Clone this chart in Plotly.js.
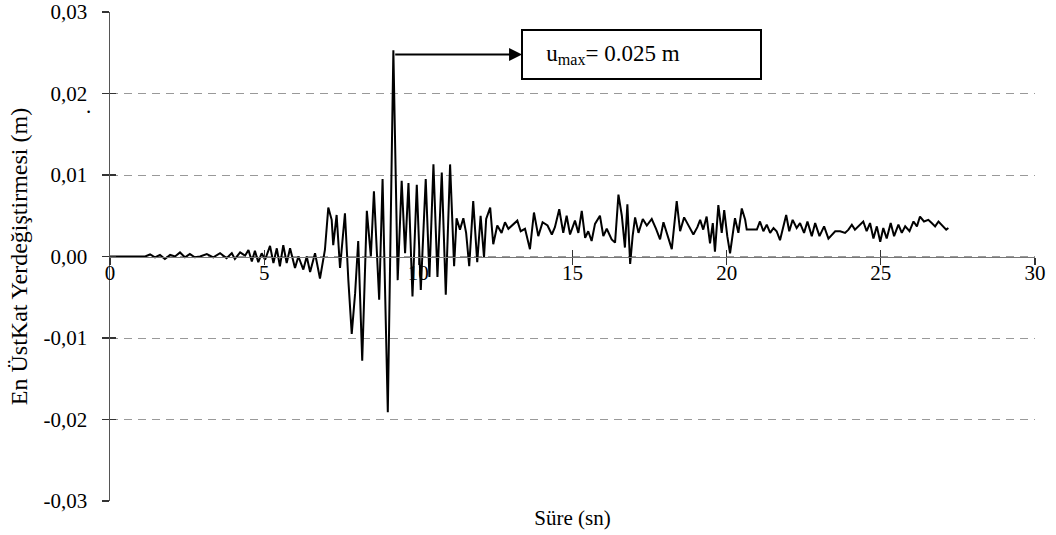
<!DOCTYPE html>
<html>
<head>
<meta charset="utf-8">
<script src="https://cdn.plot.ly/plotly-3.0.1.min.js"></script>
<style>html,body{margin:0;padding:0;background:#fff;}#chart{width:1056px;height:535px;}</style>
</head>
<body>
<div id="chart"></div>
<script>
// Time (s)
const time = [
 0, 1.14, 1.30, 1.46, 1.62, 1.78, 1.95, 2.11, 2.27, 2.43, 2.59, 2.75, 2.92,
 3.14, 3.35, 3.57, 3.78, 3.95, 4.05, 4.22, 4.38, 4.49, 4.60, 4.70, 4.81, 4.92,
 5.03, 5.19, 5.30, 5.41, 5.51, 5.62, 5.73, 5.84, 6.00, 6.11, 6.27, 6.38, 6.49,
 6.65, 6.81, 6.97, 7.08, 7.19, 7.24, 7.35, 7.46, 7.62, 7.73, 7.84, 7.95, 8.05,
 8.18, 8.33, 8.46, 8.56, 8.73, 8.84, 9.01, 9.19, 9.33, 9.46, 9.57, 9.68, 9.81,
 9.95, 10.08, 10.24, 10.36, 10.49, 10.62, 10.76, 10.89, 11.03, 11.16, 11.24,
 11.35, 11.46, 11.55, 11.65, 11.78, 11.91, 12.02, 12.13, 12.20, 12.33, 12.43,
 12.56, 12.70, 12.81, 12.92, 13.08, 13.21, 13.32, 13.46, 13.62, 13.75, 13.89,
 14.03, 14.19, 14.33, 14.43, 14.57, 14.70, 14.81, 14.92, 15.08, 15.19, 15.30,
 15.41, 15.51, 15.62, 15.73, 15.89, 16.00, 16.11, 16.27, 16.38, 16.49, 16.60,
 16.70, 16.78, 16.87, 16.95, 17.03, 17.14, 17.28, 17.41, 17.57, 17.71, 17.84,
 17.95, 18.08, 18.22, 18.38, 18.49, 18.62, 18.76, 18.92, 19.05, 19.14, 19.24,
 19.35, 19.46, 19.55, 19.62, 19.73, 19.84, 19.92, 20.02, 20.11, 20.27, 20.38,
 20.49, 20.60, 20.65, 20.98, 21.08, 21.19, 21.30, 21.41, 21.52, 21.62, 21.73,
 21.84, 21.93, 22.03, 22.14, 22.27, 22.38, 22.51, 22.62, 22.76, 22.87, 23.01,
 23.16, 23.30, 23.41, 23.52, 23.68, 23.84, 23.95, 24.06, 24.16, 24.27, 24.43,
 24.54, 24.65, 24.76, 24.87, 24.98, 25.08, 25.19, 25.32, 25.43, 25.57, 25.68,
 25.79, 25.93, 26.06, 26.17, 26.27, 26.40, 26.54, 26.65, 26.76, 26.87, 27.01,
 27.12, 27.19
];
// Top-storey displacement (m)
const displacement = [
 0, 0, 0.00025, -0.0001, 0.0002, -0.0003, 0.0002, 0, 0.0005, -0.0001, 0.0003, -0.0001, 0,
 0.0003, -0.0001, 0.0004, -0.0002, 0.0004, -0.0003, 0.0005, 0.0001, 0.0008, -0.0006, 0.0007, -0.0007, 0.0004,
 -0.0004, 0.0013, -0.0008, 0.001, -0.0012, 0.0014, -0.0008, 0.001, -0.0014, 0, -0.0016, 0, -0.0019,
 0.0004, -0.0027, 0.0008, 0.006, 0.0045, 0.0014, 0.0051, -0.0014, 0.0053, -0.0029, -0.0095, -0.0045, 0.0019,
 -0.0128, 0.0056, 0, 0.008, -0.0053, 0.0095, -0.0191, 0.0253, -0.0029, 0.0093, 0.0004, 0.009, -0.0049,
 0.0088, -0.0041, 0.0095, -0.0025, 0.0113, -0.0025, 0.0103, -0.0047, 0.0113, -0.0012, 0.0047,
 0.0033, 0.0047, 0.0029, -0.0012, 0.0068, -0.0007, 0.005, -0.0001, 0.0046, 0.006, 0.0015,
 0.0038, 0.0029, 0.0042, 0.0034, 0.004, 0.0044, 0.0031, 0.0034, 0.0009, 0.0054, 0.0025,
 0.0042, 0.0038, 0.0027, 0.0036, 0.0058, 0.0029, 0.005, 0.0027, 0.0044, 0.0029, 0.0056,
 0.0023, 0.0031, 0.0019, 0.004, 0.005, 0.0025, 0.0034, 0.0021, 0.0017, 0.0076, 0.005,
 0.0011, 0.0064, -0.0009, 0.0025, 0.0048, 0.0029, 0.0046, 0.0038, 0.0046, 0.0034, 0.0021,
 0.0042, 0.0027, 0.0009, 0.0068, 0.0031, 0.0048, 0.0038, 0.0027, 0.0036, 0.0045, 0.0033,
 0.0049, 0.0016, 0.0041, 0.0006, 0.0063, 0.0029, 0.0057, 0.0025, 0.0004, 0.0047, 0.0029,
 0.0059, 0.0045, 0.0033, 0.0033, 0.0043, 0.0031, 0.0039, 0.0029, 0.0035, 0.0031, 0.002,
 0.0039, 0.0051, 0.0031, 0.0045, 0.0035, 0.0041, 0.0029, 0.0043, 0.0025, 0.0041, 0.0025,
 0.0037, 0.0022, 0.0027, 0.0031, 0.0031, 0.0029, 0.0033, 0.0039, 0.0033, 0.0037, 0.0043,
 0.0031, 0.0041, 0.0022, 0.0037, 0.0018, 0.0035, 0.0022, 0.0041, 0.0025, 0.0039, 0.0029,
 0.0037, 0.0031, 0.0043, 0.0037, 0.0049, 0.0043, 0.0045, 0.0041, 0.0037, 0.0043, 0.0037,
 0.0033, 0.0035
];
const xTickVals = [0, 5, 10, 15, 20, 25, 30];
const xTickLabels = ['0', '5', '10', '15', '20', '25', '30'];
const yTickVals = [-0.03, -0.02, -0.01, 0, 0.01, 0.02, 0.03];
const yTickLabels = ['-0,03', '-0,02', '-0,01', '0,00', '0,01', '0,02', '0,03'];
const peakTime = 9.25, peakValue = 0.0248;
const labelTime = 17.24;
const peakLabel = '&nbsp;&nbsp;&nbsp;u<sub>max</sub>= 0.025 m';
const xTitle = 'Süre (sn)';
const yTitle = 'En ÜstKat Yerdeğiştirmesi (m)';

const FONT = 'Liberation Serif, Times New Roman, serif';

const traces = [
  {x: time, y: displacement, type: 'scatter', mode: 'lines',
   line: {color: '#000', width: 2}, hoverinfo: 'skip', xaxis: 'x', yaxis: 'y'},
  {x: [null], y: [null], type: 'scatter', mode: 'lines', xaxis: 'x2', yaxis: 'y', hoverinfo: 'skip'},
  {x: [null], y: [null], type: 'scatter', mode: 'lines', xaxis: 'x3', yaxis: 'y', hoverinfo: 'skip'},
  {x: [null], y: [null], type: 'scatter', mode: 'lines', xaxis: 'x', yaxis: 'y2', hoverinfo: 'skip'}
];

const layout = {
  width: 1056, height: 535,
  margin: {l: 110, r: 21, t: 12, b: 34},
  paper_bgcolor: '#fff', plot_bgcolor: '#fff',
  showlegend: false,
  font: {family: FONT, size: 21, color: '#000'},
  xaxis: {
    range: [0, 30], tickvals: xTickVals, ticktext: xTickLabels,
    anchor: 'free', position: 0.5,
    showline: true, linecolor: '#777', linewidth: 1.5,
    ticks: 'outside', ticklen: 7, tickwidth: 1.3, tickcolor: '#333',
    ticklabelstandoff: -10,
    tickfont: {family: FONT, size: 21, color: '#000'},
    showgrid: false, zeroline: false
  },
  xaxis2: {
    overlaying: 'x', range: [0, 30], tickvals: xTickVals,
    anchor: 'free', position: 0.5,
    ticks: 'inside', ticklen: 7, tickwidth: 1.3, tickcolor: '#333',
    showticklabels: false, showline: false, showgrid: false, zeroline: false
  },
  xaxis3: {
    overlaying: 'x', range: [0, 30], anchor: 'y', side: 'bottom',
    ticks: '', showticklabels: false, showline: false, showgrid: false, zeroline: false,
    title: {text: xTitle, standoff: 9, font: {family: FONT, size: 21, color: '#000'}}
  },
  yaxis: {
    range: [-0.03, 0.03], tickvals: yTickVals, ticktext: yTickLabels,
    showline: true, linecolor: '#555', linewidth: 1.5,
    ticks: 'outside', ticklen: 7, tickwidth: 1.3, tickcolor: '#333',
    ticklabelstandoff: 10,
    tickfont: {family: FONT, size: 21, color: '#000'},
    showgrid: true, gridcolor: '#999', gridwidth: 1, griddash: '8px,6px',
    zeroline: false,
    title: {text: yTitle, standoff: 9, font: {family: FONT, size: 24, color: '#000'}}
  },
  yaxis2: {
    overlaying: 'y', range: [-0.03, 0.03], tickvals: yTickVals, anchor: 'x', side: 'left',
    ticks: 'inside', ticklen: 6, tickwidth: 1.3, tickcolor: '#333',
    showticklabels: false, showline: false, showgrid: false, zeroline: false
  },
  annotations: [
    {x: peakTime, y: peakValue, xref: 'x', yref: 'y',
     ax: labelTime, ay: peakValue, axref: 'x', ayref: 'y',
     text: peakLabel, showarrow: true, arrowside: 'start',
     startarrowhead: 2, startarrowsize: 1.3, arrowwidth: 2, arrowcolor: '#000',
     bordercolor: '#000', borderwidth: 2, borderpad: 6, bgcolor: '#fff',
     width: 225, height: 35, align: 'left', valign: 'middle',
     font: {family: FONT, size: 23, color: '#000'}},
    {x: -0.028, y: 0.836, xref: 'paper', yref: 'paper', text: '.', showarrow: false,
     font: {family: FONT, size: 21, color: '#000'}}
  ]
};

Plotly.newPlot('chart', traces, layout, {displayModeBar: false, staticPlot: true});
</script>
</body>
</html>
